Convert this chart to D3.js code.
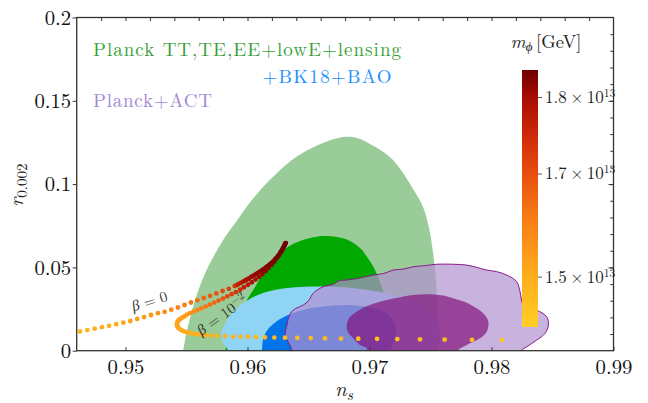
<!DOCTYPE html>
<html>
<head>
<meta charset="utf-8">
<script src="https://cdn.jsdelivr.net/npm/d3@7"></script>
<style>
html, body { margin: 0; padding: 0; background: #fff; }
svg { display: block; }
</style>
</head>
<body>
<svg id="chart" width="648" height="403"></svg>
<script>
// ---- axis ticks ----
const xTicks = [0.95, 0.96, 0.97, 0.98, 0.99];
const xTickLabels = ["0.95", "0.96", "0.97", "0.98", "0.99"];
const yTicks = [0, 0.05, 0.1, 0.15, 0.2];
const yTickLabels = ["0", "0.05", "0.1", "0.15", "0.2"];
// colour bar: m_phi in units of 1e13 GeV
const massDomain = [1.33, 1.83];
const massTicks = [1.5, 1.7, 1.8];
const massTickLabels = ["1.5", "1.7", "1.8"];

// ---- confidence contours, [n_s, r] ----
const planck95 = [[0.95440,-0.006],[0.95471,0],[0.95496,0.0094],[0.95529,0.0196],[0.95570,0.0304],[0.95619,0.0406],[0.95676,0.0502],[0.95742,0.0592],[0.95816,0.0682],[0.95906,0.0772],[0.96004,0.0874],[0.96119,0.0976],[0.96250,0.1073],[0.96398,0.1163],[0.96578,0.1235],[0.96783,0.1283],[0.96898,0.1277],[0.97004,0.1241],[0.97102,0.1199],[0.97193,0.1145],[0.97275,0.1067],[0.97357,0.0971],[0.97439,0.0863],[0.97488,0.0737],[0.97521,0.0586],[0.97545,0.0424],[0.97554,0.0262],[0.97562,0.0124],[0.97562,0],[0.97562,-0.006]];
const planck68 = [[0.95810,-0.006],[0.95817,0],[0.95857,0.0094],[0.95914,0.0184],[0.95996,0.0304],[0.96062,0.0382],[0.96127,0.0466],[0.96193,0.0532],[0.96267,0.0586],[0.96357,0.0634],[0.96455,0.0664],[0.96554,0.0682],[0.96619,0.0688],[0.96734,0.0682],[0.96840,0.0659],[0.96922,0.0617],[0.96980,0.0563],[0.97037,0.0497],[0.97086,0.0412],[0.97127,0.0316],[0.97160,0.0214],[0.97184,0.0094],[0.97193,0],[0.97195,-0.006]];
const bk95 = [[0.95842,-0.006],[0.95842,0],[0.95801,0.0046],[0.95785,0.0106],[0.95826,0.0172],[0.95898,0.0244],[0.96005,0.0304],[0.96127,0.0346],[0.96267,0.0370],[0.96431,0.0382],[0.96596,0.0385],[0.96758,0.0382],[0.96922,0.0370],[0.97086,0.0352],[0.97250,0.0322],[0.97398,0.0280],[0.97496,0.0232],[0.97554,0.0172],[0.97578,0.0106],[0.97578,0.0046],[0.97554,0],[0.97550,-0.006]];
const bk68 = [[0.96119,-0.006],[0.96119,0],[0.96127,0.0064],[0.96152,0.0112],[0.96201,0.0154],[0.96283,0.0196],[0.96398,0.0232],[0.96500,0.0252],[0.96620,0.0265],[0.96817,0.0274],[0.96964,0.0265],[0.97086,0.0244],[0.97168,0.0208],[0.97209,0.0154],[0.97217,0.0094],[0.97193,0.0034],[0.97168,0],[0.97160,-0.006]];
const act95 = [[0.96420,-0.006],[0.96348,0.0034],[0.96309,0.0094],[0.96323,0.0154],[0.96340,0.0205],[0.96375,0.0244],[0.96457,0.0274],[0.96500,0.0300],[0.96539,0.0345],[0.96621,0.0384],[0.96700,0.0398],[0.96750,0.0420],[0.96813,0.0424],[0.96920,0.0436],[0.97031,0.0454],[0.97110,0.0462],[0.97195,0.0484],[0.97280,0.0490],[0.97359,0.0504],[0.97450,0.0510],[0.97551,0.0519],[0.97680,0.0519],[0.97797,0.0514],[0.97880,0.0500],[0.97961,0.0484],[0.98040,0.0475],[0.98125,0.0454],[0.98207,0.0414],[0.98234,0.0354],[0.98261,0.0274],[0.98320,0.0260],[0.98371,0.0244],[0.98452,0.0204],[0.98466,0.0154],[0.98439,0.0104],[0.98371,0.0064],[0.98289,0.0024],[0.98234,-0.0006],[0.98230,-0.006]];
const act68 = [[0.96970,-0.006],[0.96977,0.0014],[0.96922,0.0034],[0.96867,0.0074],[0.96823,0.0112],[0.96813,0.0154],[0.96840,0.0202],[0.96895,0.0234],[0.96980,0.0268],[0.97086,0.0294],[0.97218,0.0316],[0.97359,0.0334],[0.97496,0.0339],[0.97602,0.0331],[0.97687,0.0315],[0.97791,0.0289],[0.97878,0.0255],[0.97938,0.0220],[0.97974,0.0174],[0.97961,0.0114],[0.97906,0.0074],[0.97797,0.0034],[0.97726,0],[0.97730,-0.006]];

// ---- model predictions, [n_s, r, m_phi / 1e13 GeV] ----
const beta0 = [
  [0.94627,0.01152,1.46],[0.94687,0.01236,1.47],[0.94747,0.01321,1.48],[0.94807,0.01411,1.49],
  [0.94865,0.01495,1.50],[0.94924,0.01591,1.51],[0.94982,0.01687,1.52],[0.95039,0.01783,1.53],
  [0.95096,0.01903,1.545],[0.95152,0.02017,1.555],[0.95209,0.02143,1.565],[0.95266,0.02251,1.575],
  [0.95321,0.02335,1.585],[0.95375,0.02461,1.595],[0.95430,0.02593,1.605],[0.95484,0.02743,1.62],
  [0.95537,0.02893,1.635],[0.95589,0.03025,1.65],[0.95641,0.03163,1.665],[0.95693,0.03295,1.68],
  [0.95745,0.03439,1.695],[0.95796,0.03583,1.71],[0.95847,0.03716,1.725],[0.95896,0.03884,1.74],
  [0.95918,0.0396,1.765],[0.95934,0.0403,1.772],[0.95951,0.0409,1.779],[0.95967,0.0416,1.785],
  [0.95984,0.0423,1.79],[0.96000,0.0429,1.795],[0.96016,0.0436,1.80],[0.96033,0.0444,1.803],
  [0.96049,0.0451,1.806],[0.96066,0.0458,1.809],[0.96082,0.0465,1.811],[0.96098,0.0473,1.813],
  [0.96115,0.0481,1.815],[0.96131,0.0490,1.817],[0.96148,0.0498,1.819],[0.96164,0.0507,1.82],
  [0.96180,0.0516,1.821],[0.96195,0.0526,1.822],[0.96209,0.0535,1.823],[0.96223,0.0546,1.824],
  [0.96236,0.0556,1.825],[0.96248,0.0567,1.826],[0.96260,0.0577,1.827],[0.96270,0.0589,1.828],
  [0.96280,0.0600,1.8285],[0.96289,0.0612,1.829],[0.96298,0.0624,1.8295],[0.96305,0.0634,1.83],
  [0.96312,0.0646,1.83]
];
const beta2 = [
  [0.98084,0.0064,1.400],[0.97840,0.0065,1.405],[0.97616,0.0067,1.410],[0.97414,0.0068,1.415],
  [0.97228,0.0070,1.420],[0.97062,0.0071,1.425],[0.96908,0.0072,1.430],[0.96766,0.0073,1.435],
  [0.96635,0.0074,1.440],[0.96518,0.0076,1.443],[0.96408,0.0077,1.446],[0.96307,0.0078,1.449],
  [0.96220,0.0079,1.452],[0.96143,0.0080,1.455],[0.96070,0.0082,1.458],[0.96007,0.0083,1.461],
  [0.95944,0.0084,1.464],[0.95884,0.0085,1.467],[0.95816,0.0087,1.470],[0.95748,0.0089,1.473],
  [0.95701,0.0091,1.476],[0.95660,0.0093,1.479],[0.95623,0.0095,1.482],[0.95590,0.0098,1.485],
  [0.95562,0.0101,1.488],[0.95535,0.0105,1.491],[0.95512,0.0109,1.494],[0.95492,0.0113,1.497],
  [0.95474,0.0118,1.500],[0.95458,0.0124,1.503],[0.95445,0.0130,1.506],[0.95434,0.0136,1.509],
  [0.95427,0.0143,1.512],[0.95423,0.0151,1.515],[0.95422,0.0159,1.518],[0.95424,0.0167,1.521],
  [0.95428,0.0175,1.524],[0.95434,0.0182,1.527],[0.95443,0.0188,1.530],[0.95455,0.0194,1.533],
  [0.95469,0.0200,1.536],[0.95484,0.0206,1.540],
  [0.95504,0.0217,1.56],[0.95529,0.0226,1.575],[0.95557,0.0235,1.59],[0.95589,0.0244,1.605],
  [0.95621,0.0254,1.62],[0.95656,0.0265,1.635],[0.95691,0.0277,1.65],[0.95727,0.0289,1.665],
  [0.95763,0.0301,1.68],[0.95799,0.0313,1.695],[0.95834,0.0326,1.71],[0.95870,0.0339,1.725],
  [0.95904,0.0352,1.74],[0.95939,0.0366,1.755],[0.95971,0.0381,1.77],[0.96004,0.0396,1.78],
  [0.96035,0.0411,1.79],[0.96066,0.0427,1.80],[0.96094,0.0443,1.805],[0.96122,0.0460,1.81],
  [0.96148,0.0478,1.815],[0.96173,0.0496,1.818],[0.96197,0.0516,1.82],[0.96219,0.0535,1.822],
  [0.96239,0.0555,1.824],[0.96258,0.0574,1.826],[0.96275,0.0595,1.827],[0.96291,0.0615,1.828],
  [0.96303,0.0631,1.829],[0.96314,0.0646,1.83]
];

// colour ramp of the mass bar, bottom (0) to top (1)
const rampStops = [0, 0.2, 0.4, 0.6, 0.75, 0.9, 1];
const rampColors = ["#ffcf24", "#fdac1c", "#f88216", "#e84e0e", "#cd2808", "#a50c04", "#6e0000"];

const serif = '"Latin Modern Roman", "Liberation Serif", serif';
const greek = '"Liberation Serif", serif';

const svg = d3.select("#chart").attr("font-family", serif);
const plotL = 76.7, plotR = 613.5, plotT = 17.5, plotB = 350.7;

const x = d3.scaleLinear().domain([0.946, 0.99]).range([plotL, plotR]);
const y = d3.scaleLinear().domain([0, 0.2]).range([plotB, plotT]);
const massT = d3.scalePow().exponent(5.5).domain(massDomain).range([0, 1]).clamp(true);
const ramp = d3.scaleLinear().domain(rampStops).range(rampColors).interpolate(d3.interpolateRgb).clamp(true);
const massColor = m => ramp(massT(m));

const defs = svg.append("defs");
defs.append("clipPath").attr("id", "plotClip")
  .append("rect").attr("x", plotL).attr("y", plotT).attr("width", plotR - plotL).attr("height", plotB - plotT);

const area = svg.append("g").attr("clip-path", "url(#plotClip)");
const shape = d3.line().x(d => x(d[0])).y(d => y(d[1])).curve(d3.curveCatmullRomClosed.alpha(0.5));

area.append("path").attr("d", shape(planck95)).attr("fill", "#99cc99");
area.append("path").attr("d", shape(planck68)).attr("fill", "#00a800");
area.append("path").attr("d", shape(bk95)).attr("fill", "#8fd3f5");
area.append("path").attr("d", shape(bk68)).attr("fill", "#0074e8");
area.append("path").attr("d", shape(act95)).attr("fill", "rgb(177,145,208)").attr("fill-opacity", 0.7)
  .attr("stroke", "#8a1a88").attr("stroke-width", 1);
area.append("path").attr("d", shape(act68)).attr("fill", "rgb(130,20,125)").attr("fill-opacity", 0.7);

// prediction dots
[beta0, beta2].forEach(series => {
  area.append("g").selectAll("circle").data(series).join("circle")
    .attr("cx", d => x(d[0])).attr("cy", d => y(d[1])).attr("r", 2.4)
    .attr("fill", d => massColor(d[2]));
});

// frame and axes
const fontSize = 20.7;
function styleAxis(g) {
  g.attr("font-family", serif).attr("font-size", null);
  g.select(".domain").remove();
  g.selectAll(".tick line").attr("stroke", "#333").attr("stroke-width", 1);
  g.selectAll(".tick text").attr("fill", "#111").attr("font-size", fontSize);
}
svg.append("g").attr("transform", `translate(0,${plotB})`)
  .call(d3.axisBottom(x).tickValues(xTicks).tickFormat((d, i) => xTickLabels[i])
    .tickSizeInner(-3.5).tickSizeOuter(0).tickPadding(9)).call(styleAxis);
svg.append("g").attr("transform", `translate(${plotL},0)`)
  .call(d3.axisLeft(y).tickValues(yTicks).tickFormat((d, i) => yTickLabels[i])
    .tickSizeInner(4).tickSizeOuter(0).tickPadding(1.5)).call(styleAxis);
svg.append("g").attr("transform", `translate(0,${plotT})`)
  .call(d3.axisTop(x).tickValues(d3.range(0.948, 0.989, 0.002)).tickFormat("")
    .tickSizeInner(-3.5).tickSizeOuter(0)).call(styleAxis);
svg.append("g").attr("transform", `translate(${plotR},0)`)
  .call(d3.axisRight(y).tickValues(d3.range(0.01, 0.2, 0.01)).tickFormat("")
    .tickSizeInner(-3.2).tickSizeOuter(0)).call(styleAxis);
svg.append("g").attr("transform", `translate(${plotR},0)`)
  .call(d3.axisRight(y).tickValues([0.05, 0.1, 0.15]).tickFormat("")
    .tickSizeInner(-5).tickSizeOuter(0)).call(styleAxis);

svg.append("rect").attr("x", plotL).attr("y", plotT).attr("width", plotR - plotL).attr("height", plotB - plotT)
  .attr("fill", "none").attr("stroke", "#333").attr("stroke-width", 1.3);

// axis titles
const xt = svg.append("text").attr("x", 344).attr("y", 396).attr("text-anchor", "middle")
  .attr("font-size", fontSize).attr("fill", "#222");
xt.append("tspan").attr("font-style", "italic").text("n");
xt.append("tspan").attr("font-style", "italic").attr("font-size", 15).attr("dy", 4).text("s");

const yt = svg.append("text").attr("transform", "translate(23,185) rotate(-90)").attr("text-anchor", "middle")
  .attr("font-size", fontSize).attr("fill", "#222");
yt.append("tspan").attr("font-style", "italic").text("r");
yt.append("tspan").attr("font-size", 15).attr("dy", 4).text("0.002");

// legend
const legend = [
  { text: "Planck TT,TE,EE+lowE+lensing", x: 93, y: 55.5, len: 308, color: "#37a037" },
  { text: "+BK18+BAO", x: 262.5, y: 82.5, len: 129, color: "#1e8ffa" },
  { text: "Planck+ACT", x: 93, y: 106.5, len: 119, color: "#a286d6" }
];
svg.append("g").selectAll("text").data(legend).join("text")
  .attr("x", d => d.x).attr("y", d => d.y).attr("font-size", 19)
  .attr("fill", d => d.color).attr("textLength", d => d.len).attr("lengthAdjust", "spacing")
  .text(d => d.text);

// curve labels
const b0 = svg.append("text").attr("transform", "translate(151,306) rotate(-17)")
  .attr("text-anchor", "middle").attr("font-size", 15).attr("fill", "#333");
b0.append("tspan").attr("font-family", greek).attr("font-style", "italic").text("β");
b0.append("tspan").text(" = 0");

const b2 = svg.append("text").attr("transform", "translate(225,319) rotate(-36)")
  .attr("text-anchor", "middle").attr("font-size", 15).attr("fill", "#333");
b2.append("tspan").attr("font-family", greek).attr("font-style", "italic").text("β");
b2.append("tspan").text(" = 10");
b2.append("tspan").attr("font-size", 11).attr("dy", -6).text("−2");

// colour bar
const cbX = 522, cbW = 16;
const cbY = d3.scalePow().exponent(5.5).domain(massDomain).range([327, 70]);
const grad = defs.append("linearGradient").attr("id", "massGrad")
  .attr("x1", 0).attr("y1", 1).attr("x2", 0).attr("y2", 0);
grad.selectAll("stop").data(d3.range(0, 1.0001, 0.05)).join("stop")
  .attr("offset", d => d).attr("stop-color", d => ramp(d));
svg.append("rect").attr("x", cbX).attr("y", cbY(massDomain[1])).attr("width", cbW)
  .attr("height", cbY(massDomain[0]) - cbY(massDomain[1])).attr("fill", "url(#massGrad)");

const cbAxis = svg.append("g").attr("transform", `translate(${cbX + cbW},0)`)
  .call(d3.axisRight(cbY).tickValues(massTicks).tickFormat("").tickSizeInner(4).tickSizeOuter(0));
cbAxis.select(".domain").remove();
cbAxis.selectAll(".tick line").attr("stroke", "#555");

massTicks.forEach((m, i) => {
  const t = svg.append("text").attr("x", cbX + cbW + 7).attr("y", cbY(m)).attr("dy", "0.35em")
    .attr("font-size", 17).attr("fill", "#222");
  t.append("tspan").text(massTickLabels[i] + "\u2009×\u200910");
  t.append("tspan").attr("font-size", 11.5).attr("dy", -6).text("13");
});

const cbt = svg.append("text").attr("x", 546).attr("y", 47.5).attr("text-anchor", "middle")
  .attr("font-size", 18.5).attr("fill", "#222");
cbt.append("tspan").attr("font-style", "italic").text("m");
cbt.append("tspan").attr("font-family", greek).attr("font-style", "italic").attr("font-size", 13).attr("dy", 3).text("ϕ");
cbt.append("tspan").attr("dy", -3).text("\u2009[GeV]");
</script>
</body>
</html>
